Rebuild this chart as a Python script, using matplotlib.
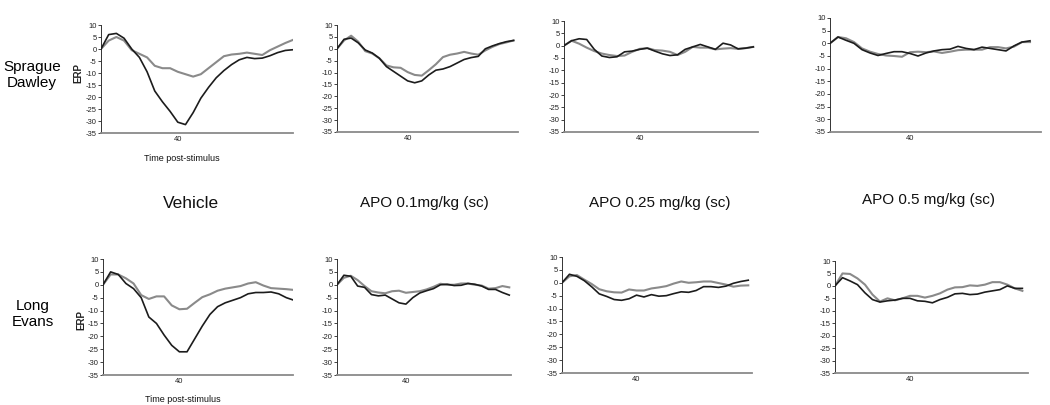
import matplotlib
matplotlib.use("Agg")
import matplotlib.pyplot as plt

plt.rcParams['font.family'] = ['Liberation Sans', 'DejaVu Sans']

# ---------------- data ----------------
time = [0, 4, 8, 12, 16, 20, 24, 28, 32, 36, 40, 44, 48,
        52, 56, 60, 64, 68, 72, 76, 80, 84, 88, 92, 96, 100]

strains = ["Sprague\nDawley", "Long\nEvans"]
conditions = ["Vehicle", "APO 0.1mg/kg (sc)", "APO 0.25 mg/kg (sc)", "APO 0.5 mg/kg (sc)"]
x_tick_values = [40]
y_tick_values = [10, 5, 0, -5, -10, -15, -20, -25, -30, -35]

# Sprague Dawley
sd_vehicle_black = [0, 6, 6.5, 4.5, 0, -3.5, -9.5, -17.5, -22, -26, -30.5, -31.5, -26.5,
                    -20.5, -16, -12, -9, -6.5, -4.5, -3.5, -4, -3.8, -2.8, -1.5, -0.6, -0.3]
sd_vehicle_gray = [0, 3.5, 5, 3.5, -0.5, -2, -3.5, -7, -8, -8, -9.5, -10.5, -11.5,
                   -10.5, -8, -5.5, -3, -2.3, -2, -1.5, -2, -2.5, -0.5, 1, 2.5, 3.8]
sd_apo01_black = [0, 4, 4.5, 2.5, -0.5, -1.8, -4, -7.5, -9.5, -11.5, -13.5, -14.3, -13.5,
                  -11, -9, -8.5, -7.5, -6, -4.5, -3.7, -3.2, 0, 1.2, 2.2, 3, 3.5]
sd_apo01_gray = [0, 3.5, 5.5, 3, -1, -2, -4, -7, -7.8, -8, -9.8, -11, -11.3,
                 -9, -6.5, -3.5, -2.5, -2, -1.3, -2, -2.5, -0.7, 0.8, 2, 2.7, 3.5]
sd_apo025_black = [0, 2, 2.8, 2.5, -1.5, -4.2, -4.8, -4.5, -2.5, -2.2, -1.5, -1, -2.2,
                   -3.3, -4, -3.7, -1.5, -0.5, 0.5, -0.5, -1.5, 1, 0.3, -1.3, -1, -0.5]
sd_apo025_gray = [0, 2, 0.8, -0.8, -2.2, -3.2, -3.8, -4.2, -4, -2.5, -1.3, -1, -1.8,
                  -2, -2.5, -3.8, -2.5, -0.5, -0.8, -0.8, -1.5, -1.2, -1, -1.3, -1, -0.5]
sd_apo05_black = [0, 2.5, 1.2, 0, -2.5, -3.8, -4.8, -4, -3.3, -3.3, -4, -5, -3.8,
                  -3, -2.5, -2.3, -1.2, -2, -2.5, -1.5, -2, -2.5, -3, -1, 0.5, 1]
sd_apo05_gray = [0, 2.5, 2, 0.5, -2, -3.3, -4.2, -4.8, -5, -5.3, -3.5, -3.3, -3.5,
                 -3.2, -3.8, -3.3, -2.7, -2.5, -2.5, -2.5, -1.5, -1.5, -2, -1.3, 0.5, 0.5]

# Long Evans
le_vehicle_black = [0, 5, 4, 0.5, -1.5, -5, -12.5, -15, -19.5, -23.5, -26, -26, -21,
                    -16, -11.5, -8.5, -7, -6, -5, -3.5, -3, -3, -2.8, -3.5, -5, -6]
le_vehicle_gray = [0, 4, 4, 2.5, 0.5, -4, -5.5, -4.5, -4.5, -8, -9.5, -9.3, -7,
                   -4.8, -3.7, -2.3, -1.5, -1, -0.5, 0.5, 1, -0.3, -1.3, -1.5, -1.7, -2]
le_apo01_black = [0, 3.7, 3.3, -0.5, -1, -3.8, -4.3, -4, -5.5, -7, -7.5, -5, -3.2,
                  -2.3, -1.5, 0, 0.2, -0.3, -0.2, 0.5, 0.2, -0.5, -1.8, -1.8, -3, -4]
le_apo01_gray = [0, 2.7, 3.5, 1.8, -0.5, -2.5, -3, -3.3, -2.5, -2.3, -3.1, -2.8, -2.5,
                 -1.8, -0.8, 0.4, 0, 0, 0.5, 0.5, 0, -0.3, -1.5, -1.3, -0.5, -1]
le_apo025_black = [0, 3.3, 2.5, 0.8, -1.6, -4.3, -5.3, -6.5, -6.8, -6.2, -4.8, -5.5, -4.6,
                   -5.2, -5, -4.2, -3.5, -3.7, -3, -1.5, -1.5, -1.8, -1.3, -0.2, 0.5, 1]
le_apo025_gray = [0, 2.5, 3, 1.2, -0.5, -2.5, -3.3, -3.7, -3.8, -2.6, -3, -3, -2.2,
                  -1.8, -1.3, -0.3, 0.5, 0, 0.2, 0.5, 0.5, -0.1, -0.7, -1.5, -1.1, -1]
le_apo05_black = [0, 3.3, 2, 0.5, -2.8, -5.5, -6.5, -6, -5.7, -5, -5, -6, -6.2,
                  -6.8, -5.5, -4.6, -3.2, -3, -3.5, -3.3, -2.5, -2, -1.5, 0, -1, -1]
le_apo05_gray = [0, 5, 4.8, 3, 0.5, -3.5, -6.3, -5, -5.8, -5, -4, -4, -4.7,
                 -4, -3, -1.5, -0.6, -0.5, 0.2, 0, 0.5, 1.5, 1.5, 0.5, -1, -2]

black_series = [[sd_vehicle_black, sd_apo01_black, sd_apo025_black, sd_apo05_black],
                [le_vehicle_black, le_apo01_black, le_apo025_black, le_apo05_black]]
gray_series = [[sd_vehicle_gray, sd_apo01_gray, sd_apo025_gray, sd_apo05_gray],
               [le_vehicle_gray, le_apo01_gray, le_apo025_gray, le_apo05_gray]]

# ---------------- layout (pixel boxes: left, right, top, bottom) ----------------
W, H = 1050, 405
boxes = [
    [(101, 293, 25, 133), (337, 518, 25, 132), (564, 758, 21, 132), (830, 1041, 18, 132)],
    [(103, 293, 259, 375), (337, 511, 259, 375), (562, 752, 257, 373), (835, 1028, 261, 373)],
]
xmax = [[100, 102.5, 102.5, 105.5], [99.5, 101, 102, 103]]

fig = plt.figure(figsize=(W / 100, H / 100), dpi=100)


def fx(px):
    return px / W


def fy(py):
    return 1 - py / H


for r in range(2):
    for c in range(4):
        l, rr, t, b = boxes[r][c]
        ax = fig.add_axes([fx(l), fy(b), fx(rr) - fx(l), fy(t) - fy(b)])
        ax.plot(time, gray_series[r][c], color='#8a8a8a', lw=1.5, zorder=2)
        ax.plot(time, black_series[r][c], color='#1c1c1c', lw=1.2, zorder=3)
        ax.set_xlim(0, xmax[r][c])
        ax.set_ylim(-35, 10)
        ax.set_yticks(y_tick_values)
        ax.set_yticklabels([str(v) for v in y_tick_values])
        ax.set_xticks(x_tick_values)
        ax.set_xticklabels([str(v) for v in x_tick_values])
        ax.tick_params(axis='y', labelsize=5.5, length=2, width=0.6, pad=1,
                       colors='#222222', direction='out')
        ax.tick_params(axis='x', labelsize=5.5, length=0, pad=2, colors='#222222')
        for s in ['top', 'right']:
            ax.spines[s].set_visible(False)
        ax.spines['left'].set_color('#333333')
        ax.spines['left'].set_linewidth(0.7)
        ax.spines['bottom'].set_color('#8a8a8a')
        ax.spines['bottom'].set_linewidth(1.3)
        ax.patch.set_alpha(0)

# row labels
fig.text(fx(32), fy(75), strains[0], ha='center', va='center', fontsize=11,
         linespacing=1.15)
fig.text(fx(33), fy(314), strains[1], ha='center', va='center', fontsize=11,
         linespacing=1.15)

# ERP labels
fig.text(fx(78), fy(73), "ERP", rotation=90, ha='center', va='center', fontsize=7,
         fontweight='bold', color='#222222')
fig.text(fx(81), fy(320), "ERP", rotation=90, ha='center', va='center', fontsize=7,
         fontweight='bold', color='#222222')

# time labels
fig.text(fx(182), fy(158), "Time post-stimulus", ha='center', va='center', fontsize=6.5,
         color='#111111')
fig.text(fx(183), fy(400), "Time post-stimulus", ha='center', va='center', fontsize=6.5,
         color='#111111')

# condition labels
cond_pos = [(191, 203, 12.5), (424, 203, 11), (660, 203, 11), (928, 200, 11)]
for name, (px, py, fs) in zip(conditions, cond_pos):
    fig.text(fx(px), fy(py), name, ha='center', va='center', fontsize=fs, color='#111111')

fig.savefig("out.png", dpi=100)
